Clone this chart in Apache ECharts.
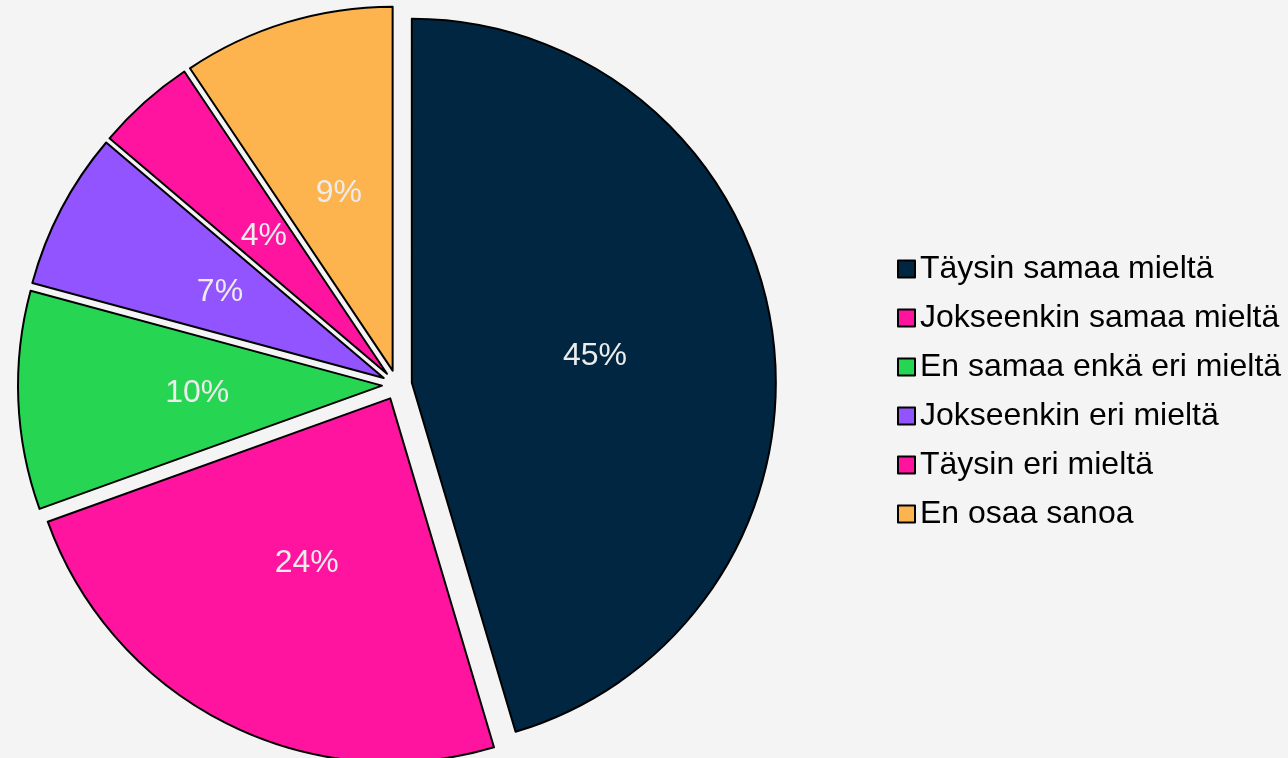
<!DOCTYPE html>
<html>
<head>
<meta charset="utf-8">
<script src="https://cdn.jsdelivr.net/npm/echarts@6/dist/echarts.min.js"></script>
<style>
  html, body { margin: 0; padding: 0; background: #f4f4f4; }
  #pie { width: 1288px; height: 758px; }
</style>
</head>
<body>
<div id="pie"></div>
<script>
// vastaukset (%)
const categories = ['Täysin samaa mieltä', 'Jokseenkin samaa mieltä', 'En samaa enkä eri mieltä', 'Jokseenkin eri mieltä', 'Täysin eri mieltä', 'En osaa sanoa'];
const values = [45.4, 24.1, 9.7, 7.0, 4.4, 9.4];
const colors = ['#012641', '#ff14a0', '#26d653', '#9254fe', '#ff14a0', '#fdb44f'];

let pieChart = echarts.init(document.getElementById('pie'));
let pieData = categories.map((name, i) => ({
    name: name,
    value: values[i],
    selected: true
}));

let option = {
    backgroundColor: '#f4f4f4',
    color: colors,
    animation: false,
    legend: {
        orient: 'vertical',
        left: 892,
        top: 248,
        itemWidth: 17,
        itemHeight: 17,
        itemGap: 17,
        icon: 'rect',
        selectedMode: false,
        itemStyle: {
            borderColor: '#000',
            borderWidth: 2
        },
        textStyle: {
            fontFamily: 'Liberation Sans, Arial, sans-serif',
            fontSize: 32,
            lineHeight: 32,
            color: '#000'
        },
        data: categories
    },
    series: [
        {
            name: 'Vastaukset',
            type: 'pie',
            center: [397, 385],
            radius: 364,
            startAngle: 90,
            clockwise: true,
            selectedMode: 'multiple',
            selectedOffset: 15,
            avoidLabelOverlap: false,
            itemStyle: {
                borderColor: '#000',
                borderWidth: 2
            },
            label: {
                show: true,
                position: 'inside',
                formatter: p => Math.round(p.percent) + '%',
                color: '#ececec',
                fontFamily: 'Liberation Sans, Arial, sans-serif',
                fontSize: 32,
                offset: [0, 3]
            },
            labelLine: { show: false },
            emphasis: { disabled: true },
            data: pieData
        }
    ]
};
pieChart.setOption(option);
</script>
</body>
</html>
